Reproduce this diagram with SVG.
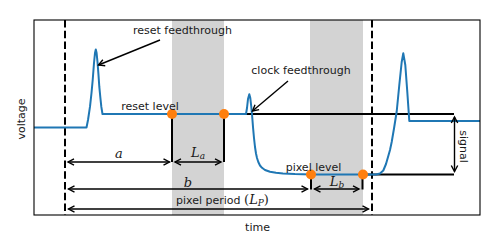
<svg xmlns="http://www.w3.org/2000/svg" width="500" height="250" viewBox="0 0 500 250">
<style>
.txt{font-family:"DejaVu Sans","Liberation Sans",sans-serif;font-size:11px;fill:#1a1a1a}
.math{font-family:"DejaVu Serif","Liberation Serif",serif;font-style:italic;font-size:13px;fill:#1a1a1a}
.paren{font-family:"DejaVu Serif","Liberation Serif",serif;font-style:normal;font-size:13px}
.sub{font-size:9px}
.band{fill:#d3d3d3}
.dash{stroke:#000;stroke-width:2;stroke-dasharray:7.5 3.3;fill:none}
.lvl{stroke:#000;stroke-width:2;fill:none}
.tick{stroke:#000;stroke-width:2;fill:none}
.curve{stroke:#1f77b4;stroke-width:2;fill:none;stroke-linejoin:round}
.dot{fill:#ff7f0e}
.arr{stroke:#000;stroke-width:1.4;fill:none}
.dbl{marker-start:url(#head);marker-end:url(#head)}
.one{marker-end:url(#head)}
</style>
<defs>
<marker id="head" viewBox="-8 -5 10 10" refX="0" refY="0" markerWidth="10" markerHeight="10" markerUnits="userSpaceOnUse" orient="auto-start-reverse" overflow="visible">
<path d="M-6,-3.2 L0,0 L-6,3.2" fill="none" stroke="#000" stroke-width="1.4"/>
</marker>
</defs>
<rect width="500" height="250" fill="#fff"/>
<g id="bands">
<rect class="band" x="172" y="20" width="52" height="195"/>
<rect class="band" x="310" y="20" width="53" height="195"/>
</g>
<g id="period-bounds">
<line class="dash" x1="65" y1="20" x2="65" y2="215"/>
<line class="dash" x1="372" y1="20" x2="372" y2="215"/>
</g>
<g id="levels">
<line class="lvl" x1="224" y1="114" x2="454" y2="114"/>
<line class="lvl" x1="363" y1="174.5" x2="454" y2="174.5"/>
<line class="tick" x1="172" y1="114" x2="172" y2="162"/>
<line class="tick" x1="224" y1="114" x2="224" y2="162"/>
<line class="tick" x1="311" y1="174.5" x2="311" y2="189.5"/>
<line class="tick" x1="362.5" y1="174.5" x2="362.5" y2="189.5"/>
</g>
<g id="signal-curve">
<polyline class="curve" points="34,127.5 86.5,127.5 88,120 90,106.7 91.5,93 92.7,80 94,63 95,53 95.8,49.5 96.6,53 97.5,62 98.5,75 99.3,86.7 100.3,97 101.3,106.7 102.5,114 246,114 247,108 248,99 249.3,94.3 250.3,98 251.2,106 252,114 253,127 254,138 255,147 256,153.5 257,158 258.3,162 260,165.5 262,167.8 265,170 270,171.8 276,172.8 283,173.4 295,174.1 311,174.5 376,174.5 380,173.5 383.3,170.5 386,164 388.3,156 390,150 391.7,142 394,128.5 396.7,111.5 399.3,85 401.7,62 403.3,53.3 405.3,65 407.3,92 409.3,121 480,121"/>
</g>
<g id="samples">
<circle class="dot" cx="172" cy="114" r="5"/>
<circle class="dot" cx="224" cy="114" r="5"/>
<circle class="dot" cx="311" cy="174.5" r="5"/>
<circle class="dot" cx="363" cy="174.5" r="5"/>
</g>
<g id="connectors">
<line class="arr one" x1="160" y1="40" x2="98.5" y2="65"/>
<line class="arr one" x1="288" y1="81" x2="252.5" y2="111"/>
<line class="arr dbl" x1="68" y1="162" x2="169.5" y2="162"/>
<line class="arr dbl" x1="175" y1="162" x2="221" y2="162"/>
<line class="arr dbl" x1="68.5" y1="189" x2="307.5" y2="189"/>
<line class="arr dbl" x1="314.5" y1="189" x2="359" y2="189"/>
<line class="arr dbl" x1="68.5" y1="209" x2="368.5" y2="209"/>
<line class="arr dbl" x1="454.5" y1="117" x2="454.5" y2="171.5"/>
</g>
<g id="labels">
<text class="txt" x="182.5" y="33.5" text-anchor="middle">reset feedthrough</text>
<text class="txt" x="301" y="74" text-anchor="middle">clock feedthrough</text>
<text class="txt" x="150" y="110" text-anchor="middle">reset level</text>
<text class="txt" x="313.5" y="170.5" text-anchor="middle">pixel level</text>
<text class="math" x="119" y="158" text-anchor="middle">a</text>
<text class="math" x="198" y="157" text-anchor="middle">L<tspan class="sub" dy="2">a</tspan></text>
<text class="math" x="188" y="187" text-anchor="middle">b</text>
<text class="math" x="337" y="186" text-anchor="middle">L<tspan class="sub" dy="2">b</tspan></text>
<text class="txt" x="176" y="203.5">pixel period <tspan class="paren">(</tspan><tspan class="math">L</tspan><tspan class="math sub" dy="2.5">P</tspan><tspan class="paren" dy="-2.5">)</tspan></text>
<text class="txt" transform="translate(460,146.5) rotate(90)" text-anchor="middle">signal</text>
<text class="txt" transform="translate(25,119) rotate(-90)" text-anchor="middle">voltage</text>
<text class="txt" x="257.5" y="231" text-anchor="middle">time</text>
</g>
<g id="axes">
<rect x="34" y="20" width="446" height="195" fill="none" stroke="#000" stroke-width="1.1"/>
</g>
</svg>
